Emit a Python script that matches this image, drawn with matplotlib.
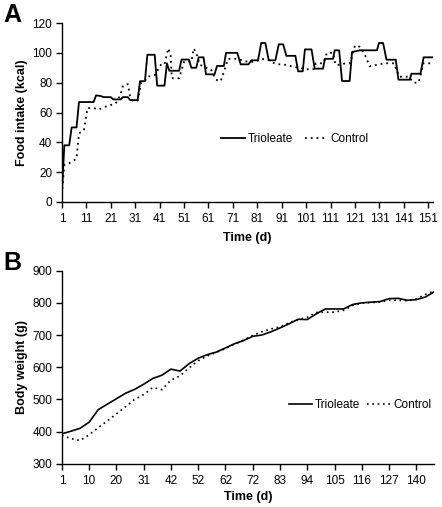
import matplotlib
matplotlib.use("Agg")
import matplotlib.pyplot as plt

plt.rcParams["font.family"] = ["Liberation Sans", "DejaVu Sans"]

# ---------------------------------------------------------------------
# Data
# ---------------------------------------------------------------------

# Panel A: food intake, breakpoints (day, kcal)
TRIOLEATE_DAYS = [1, 2, 4, 5, 7, 8, 14, 15, 17, 18, 21, 22, 25, 26, 28, 29, 32, 33, 35,
                  36, 39, 40, 43, 44, 45, 49, 50, 53, 54, 56, 57, 59, 60, 63.5, 64.5,
                  67.3, 68.2, 72.8, 74.2, 77.4, 78.6, 81.3, 82.6, 84.3, 85.7, 88.4, 89.8,
                  91.6, 92.9, 96.6, 97.7, 99.6, 100.5, 103.2, 104.5, 107.9, 108.7, 112,
                  112.7, 114.5, 115.7, 118.8, 119.8, 123, 130, 130.8, 132.5, 133.9, 137.7,
                  138.8, 143.4, 144.1, 147.8, 149.1, 153]
TRIOLEATE_KCAL = [6, 38, 38, 50, 50, 67, 67, 71.5, 71, 70.3, 70.3, 68.8, 68.8, 70.3, 70.3,
                  68.3, 68.3, 81, 81, 98.7, 98.7, 78, 78, 93, 88, 88, 95.5, 95.5, 90, 90,
                  97, 97, 85.6, 85.6, 91.2, 91.2, 100, 100, 92.3, 92.3, 95, 95, 106.6,
                  106.6, 95, 95, 105.7, 105.7, 98, 98, 87.6, 87.6, 102.3, 102.3, 89.4,
                  89.4, 96, 96, 101.7, 101.7, 81.1, 81.1, 100.6, 101.7, 101.7, 106.6,
                  106.6, 95.4, 95.4, 82, 82, 86, 86, 97, 97]

CONTROL_DAYS = [1, 2, 4, 6, 7, 8, 10, 11.5, 14, 16, 19, 21, 23, 25, 26, 28, 29, 30, 32,
                33.5, 35, 36, 39, 41.5, 43, 44.5, 45.5, 46, 49, 51, 54, 55, 56, 57.5, 60,
                62, 64, 66, 67.5, 69, 72, 75, 77, 80, 83, 86, 88, 91, 93, 95, 98, 101,
                104, 105, 108, 109.5, 112, 113, 115, 117, 119, 121, 123, 125, 127, 130,
                133, 137, 139, 143, 145, 147, 148, 149, 153]
CONTROL_KCAL = [5, 25, 26, 28, 29, 46, 48, 63, 63, 62, 64, 65, 66, 72, 78, 79, 70, 68, 68,
                80, 81, 84, 85, 92, 92, 103, 99, 83, 83, 94, 94, 103, 100, 92, 90, 89, 82,
                81, 88, 96, 96, 95, 94, 94, 96, 95, 93, 92, 92, 91, 90, 89, 89, 93, 93,
                100, 100, 92, 92, 93, 93, 105, 104, 99, 91, 92, 93, 93, 84, 84, 80, 80,
                86, 93, 93]

# Panel B: body weight at each weighing (category axis)
TRIOLEATE_WEIGHT = [393, 401, 410, 429, 468, 485, 502, 519, 531, 547, 565, 575, 594, 588,
                    611, 628, 639, 647, 660, 673, 683, 696, 700, 710, 722, 735, 749, 748,
                    766, 781, 781, 781, 795, 800, 802, 804, 813, 814, 808, 810, 818, 835]
CONTROL_WEIGHT = [388, 378, 372, 390, 412, 433, 455, 477, 500, 515, 537, 530, 560, 573,
                  598, 620, 635, 646, 658, 672, 684, 699, 710, 719, 725, 738, 748, 755,
                  770, 771, 771, 777, 792, 800, 801, 802, 808, 808, 807, 812, 826, 838]
WEIGHT_TICK_LABELS = ["1", "10", "20", "31", "42", "52", "62", "72", "83", "94",
                      "105", "116", "127", "140"]


# ---------------------------------------------------------------------
# Plot
# ---------------------------------------------------------------------

def style_axes(ax):
    for side in ("top", "right"):
        ax.spines[side].set_visible(False)
    for side in ("left", "bottom"):
        ax.spines[side].set_linewidth(1.0)
    ax.tick_params(direction="out", length=4, width=1.0, labelsize=8.5)
    ax.tick_params(axis="x", pad=4)
    ax.tick_params(axis="y", pad=3)


fig = plt.figure(figsize=(4.42, 5.07), dpi=100)

# Panel A
ax1 = fig.add_axes([0.140, 0.6016, 0.840, 0.353])
ax1.plot(TRIOLEATE_DAYS, TRIOLEATE_KCAL, color="black", lw=1.3, label="Trioleate")
ax1.plot(CONTROL_DAYS, CONTROL_KCAL, color="black", lw=1.3, linestyle=(0, (1, 2.2)),
         label="Control")
ax1.set_xlim(1, 153)
ax1.set_ylim(0, 120)
ax1.set_xticks(range(1, 152, 10))
ax1.set_yticks(range(0, 121, 20))
style_axes(ax1)
ax1.set_xlabel("Time (d)", fontsize=9, fontweight="bold", labelpad=5)
ax1.set_ylabel("Food intake (kcal)", fontsize=9, fontweight="bold", labelpad=3)
ax1.legend(loc="center", bbox_to_anchor=(0.628, 0.352), ncol=2, frameon=False,
           fontsize=8.5, handlelength=2.0, handletextpad=0.2, columnspacing=1.0)
fig.text(0.008, 0.995, "A", fontsize=18, fontweight="bold", va="top", ha="left")

# Panel B
x_idx = list(range(len(TRIOLEATE_WEIGHT)))
ax2 = fig.add_axes([0.140, 0.0854, 0.843, 0.3807])
ax2.plot(x_idx, TRIOLEATE_WEIGHT, color="black", lw=1.2, label="Trioleate")
ax2.plot(x_idx, CONTROL_WEIGHT, color="black", lw=1.2, linestyle=(0, (1, 2.2)),
         label="Control")
ax2.set_xlim(0, len(TRIOLEATE_WEIGHT) - 1)
ax2.set_ylim(300, 900)
ax2.set_xticks(range(0, 3 * len(WEIGHT_TICK_LABELS), 3))
ax2.set_xticklabels(WEIGHT_TICK_LABELS)
ax2.set_yticks(range(300, 901, 100))
style_axes(ax2)
ax2.set_xlabel("Time (d)", fontsize=9, fontweight="bold", labelpad=3)
ax2.set_ylabel("Body weight (g)", fontsize=9, fontweight="bold", labelpad=3)
ax2.legend(loc="center", bbox_to_anchor=(0.80, 0.305), ncol=2, frameon=False,
           fontsize=8.5, handlelength=2.0, handletextpad=0.2, columnspacing=0.6)
fig.text(0.008, 0.505, "B", fontsize=18, fontweight="bold", va="top", ha="left")

fig.savefig("out.png", dpi=100)
